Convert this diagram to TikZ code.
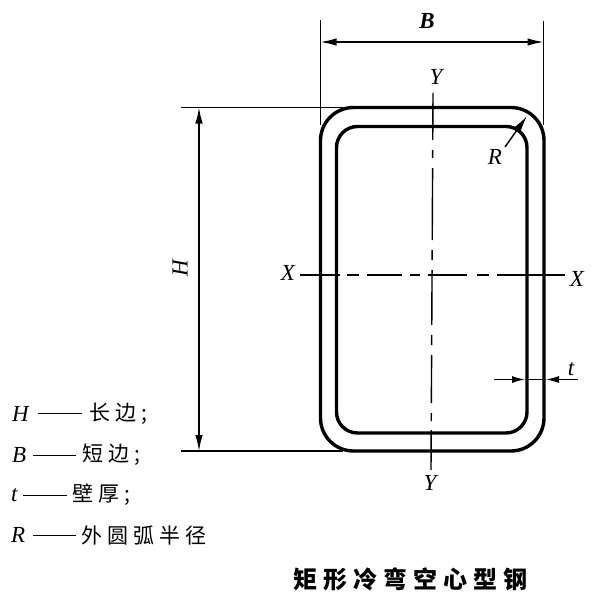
\documentclass[tikz,border=0pt]{standalone}
\usepackage{fontspec}
\setmainfont{Liberation Serif}
\newfontfamily\cjk{Noto Sans CJK SC}
\usetikzlibrary{arrows.meta}
\tikzset{
  wall/.style={line width=3.4pt,rounded corners=#1},
  dim/.style={line width=1.4pt},
  thin line/.style={line width=1.4pt},
  bigtip/.tip={Latex[length=16pt,width=7.5pt]},
  smalltip/.tip={Latex[length=13pt,width=7pt]},
  var/.style={font=\fontsize{23}{23}\selectfont\itshape,inner sep=0pt},
  leg/.style={font=\fontsize{21}{21}\selectfont\cjk,anchor=west,inner sep=0pt},
  legv/.style={font=\fontsize{23}{23}\selectfont\itshape,anchor=west,inner sep=0pt},
  legd/.style={line width=1pt},
  titletext/.style={font=\fontsize{24}{24}\selectfont\cjk\bfseries,inner sep=0pt},
}
\newcommand{\gp}{\hspace{5pt}}
\newcommand{\gq}{\hspace{6pt}}
\begin{document}
\begin{tikzpicture}[x=1pt,y=-1pt]
\useasboundingbox (0,0) rectangle (602,602);
% extension lines
\coordinate (bl) at (320.5,20); \coordinate (blb) at (320.5,125);
\coordinate (br) at (543.5,21); \coordinate (brb) at (543.5,125);
\coordinate (hl) at (181,107.5); \coordinate (hlr) at (343,107.5);
\coordinate (dl) at (181,451); \coordinate (dlr) at (343,451);
\draw[thin line] (bl) -- (blb);
\draw[thin line] (br) -- (brb);
\draw[thin line] (hl) -- (hlr);
\draw[thin line] (dl) -- (dlr);
% tube
\draw[wall=33pt] (320.5,107.5) rectangle (544,451);
\draw[wall=21pt] (336.5,126.5) rectangle (527,433);
% centre lines
\coordinate (y1) at (433,93); \coordinate (y2) at (431,470);
\coordinate (x1) at (300,275); \coordinate (x2) at (565,275);
\draw[line width=1.4pt,dash pattern=on 47pt off 10pt on 8pt off 10pt on 72pt off 10pt on 10pt off 10pt on 55pt off 10pt on 10pt off 10pt on 48pt off 10pt on 8pt off 9pt on 50pt off 0pt] (y1) -- (y2);
\draw[line width=1.4pt,dash pattern=on 40pt off 7pt on 12pt off 8pt on 35pt off 8pt on 10pt off 8pt on 39pt off 10pt on 12pt off 8pt on 80pt off 0pt] (x1) -- (x2);
% dimensions
\coordinate (ba) at (320.5,42); \coordinate (bb) at (543.5,42);
\draw[dim,{bigtip}-{bigtip}] (ba) -- (bb);
\coordinate (ha) at (199,107.5); \coordinate (hb) at (199,451);
\draw[dim,{bigtip}-{bigtip}] (ha) -- (hb);
\coordinate (ra) at (505,147); \coordinate (rb) at (527,116);
\draw[dim,-{bigtip}] (ra) -- (rb);
\coordinate (ta) at (494,379.5); \coordinate (tb) at (525,379.5);
\coordinate (tc) at (578,379.5); \coordinate (td) at (546,379.5);
\draw[dim] (tb) -- (td);
\draw[dim,-{smalltip}] (ta) -- (tb);
\draw[dim,-{smalltip}] (tc) -- (td);
% labels
\node[var] (lb) at (427,21) {\bfseries B};
\node[var] (ly1) at (436,77) {Y};
\node[var] (lr) at (495,157) {R};
\node[var,rotate=90] (lh) at (180,268) {H};
\node[var] (lx1) at (288,273) {X};
\node[var] (lx2) at (577,279) {X};
\node[var] (lt) at (571,369) {t};
\node[var] (ly2) at (430,483) {Y};
% legend
\node[legv] (h1) at (12,414) {H};
\node[legv] (b1) at (12,455) {B};
\node[legv] (t1) at (11,495) {t};
\node[legv] (r1) at (11,535) {R};
\coordinate (hd1) at (38,413); \coordinate (hd2) at (82,413);
\coordinate (bd1) at (33,455); \coordinate (bd2) at (76,455);
\coordinate (td1) at (23,495); \coordinate (td2) at (67,495);
\coordinate (rd1) at (33,535); \coordinate (rd2) at (76,535);
\draw[legd] (hd1) -- (hd2);
\draw[legd] (bd1) -- (bd2);
\draw[legd] (td1) -- (td2);
\draw[legd] (rd1) -- (rd2);
\node[leg] (h2) at (89,414) {长\gp 边\gp ;};
\node[leg] (b2) at (82,455) {短\gp 边\gp ;};
\node[leg] (t2) at (72,495) {壁\gp 厚\gp ;};
\node[leg] (r2) at (81,535) {外\gp 圆\gp 弧\gp 半\gp 径};
\node[titletext] (title) at (410,579) {矩\gq 形\gq 冷\gq 弯\gq 空\gq 心\gq 型\gq 钢};
\end{tikzpicture}
\end{document}
